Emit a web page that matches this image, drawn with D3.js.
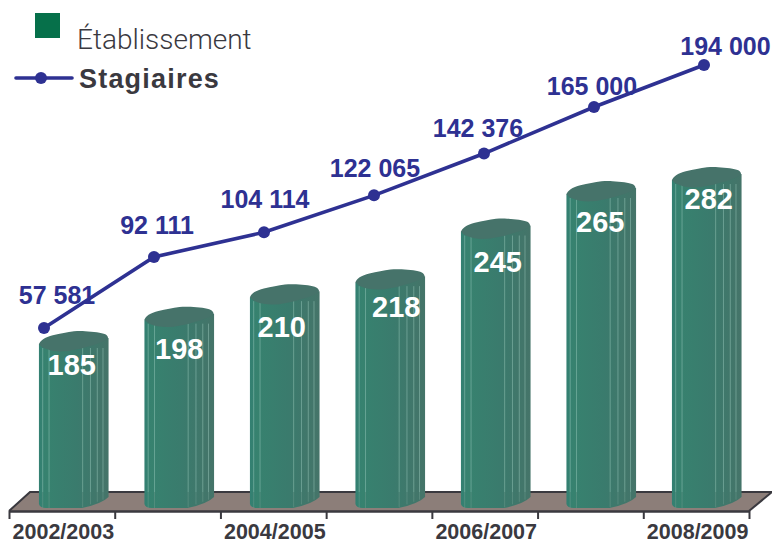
<!DOCTYPE html>
<html>
<head>
<meta charset="utf-8">
<script src="https://cdn.jsdelivr.net/npm/d3@7"></script>
<style>
  html, body { margin: 0; padding: 0; background: #fff; }
  svg { display: block; }
  text { font-family: "Liberation Sans", Arial, sans-serif; }
</style>
</head>
<body>
<div id="chart"></div>
<script>
// Données
const years = ["2002/2003", "2003/2004", "2004/2005", "2005/2006", "2006/2007", "2007/2008", "2008/2009"];
const shownYears = ["2002/2003", "2004/2005", "2006/2007", "2008/2009"];
const etablissements = [185, 198, 210, 218, 245, 265, 282];
const stagiaires = [57581, 92111, 104114, 122065, 142376, 165000, 194000];
const stagiairesLabels = ["57 581", "92 111", "104 114", "122 065", "142 376", "165 000", "194 000"];

const width = 772, height = 544;
const dark = "#3a393f", blue = "#2e3192";

const svg = d3.select("#chart").append("svg")
    .attr("width", width)
    .attr("height", height);

// l'original n'a pas d'échelle régulière : la dernière année est tassée, d'où les 3 points
const yBar = d3.scaleLinear().domain([185, 265, 282]).range([344, 194, 180]);
const yLine = d3.scaleLinear().domain([57581, 165000, 194000]).range([328, 107, 65]);

const xAxisScale = d3.scaleBand().domain(years).range([9, 749]);
const xBar = d3.scaleBand().domain(years).range([21, 759.5]).paddingInner(0.34).paddingOuter(0.17);
const xLine = d3.scalePoint().domain(years).range([44, 704]);

const defs = svg.append("defs");
const grad = defs.append("linearGradient").attr("id", "barFill");
grad.append("stop").attr("offset", "0%").attr("stop-color", "#338072");
grad.append("stop").attr("offset", "10%").attr("stop-color", "#37826f");
grad.append("stop").attr("offset", "55%").attr("stop-color", "#3a7b6d");
grad.append("stop").attr("offset", "100%").attr("stop-color", "#457469");

// Sol
const floorBack = 492, floorFront = 511;
svg.append("polygon")
    .attr("points", `9,${floorFront} 30,${floorBack} 772,${floorBack} 749,${floorFront}`)
    .style("fill", "#8c7e79");
svg.append("polyline")
    .attr("points", `9,${floorFront} 30,${floorBack} 772,${floorBack}`)
    .style("fill", "none").style("stroke", dark).style("stroke-width", 2);
svg.append("polyline")
    .attr("points", `749,${floorFront} 772,${floorBack}`)
    .style("fill", "none").style("stroke", dark).style("stroke-width", 2);

// Axe : graduations aux bords des années
const tickScale = d3.scaleLinear().domain([0, years.length]).range(xAxisScale.range());
const axis = svg.append("g")
    .attr("transform", `translate(0,${floorFront})`)
    .call(d3.axisBottom(tickScale)
        .tickValues(d3.range(years.length + 1))
        .tickFormat("")
        .tickSize(8)
        .tickSizeOuter(0));
axis.select(".domain").style("stroke", dark).style("stroke-width", 2.6);
axis.selectAll(".tick line").style("stroke", dark).style("stroke-width", 2);

svg.selectAll("text.year")
    .data(shownYears)
    .enter().append("text")
    .attr("class", "year")
    .attr("x", d => xAxisScale(d) + xAxisScale.bandwidth() / 2 + 1.5)
    .attr("y", 539)
    .attr("text-anchor", "middle")
    .style("font-size", "21.5px")
    .style("font-weight", "bold")
    .style("fill", dark)
    .text(d => d);

// Cylindres
const stripes = [0.054, 0.145, 0.628, 0.74, 0.838, 0.92];
const curve = d3.line().curve(d3.curveBasis);

function bodyPath(x, w, top) {
    return `M${x},${top} L${x},504 Q${x + 1},508 ${x + 7},508 L${x + w * 0.62},508 `
        + `Q${x + w * 0.9},504 ${x + w},497 L${x + w},${top - 6} Z`;
}
function capPath(x, w, top) {
    return curve([
        [x, top], [x + w * 0.04, top - 5], [x + w * 0.2, top - 9], [x + w * 0.36, top - 11],
        [x + w * 0.5, top - 13], [x + w * 0.66, top - 13], [x + w * 0.84, top - 12],
        [x + w * 0.97, top - 10], [x + w, top - 6], [x + w * 0.98, top - 4], [x + w * 0.8, top + 1],
        [x + w * 0.6, top + 5], [x + w * 0.36, top + 8], [x + w * 0.18, top + 7], [x + w * 0.05, top + 4], [x, top]
    ]);
}

const bars = svg.selectAll("g.bar")
    .data(years)
    .enter().append("g")
    .attr("class", "bar");

bars.append("path")
    .attr("d", (d, i) => bodyPath(xBar(d), xBar.bandwidth(), yBar(etablissements[i])))
    .style("fill", "url(#barFill)");

bars.each(function (d, i) {
    const w = xBar.bandwidth(), x0 = xBar(d), top = yBar(etablissements[i]);
    const g = d3.select(this);
    // partie haute claire, partie basse (devant le sol) plus sombre
    g.selectAll("line.up")
        .data(stripes)
        .enter().append("line")
        .attr("class", "up")
        .attr("x1", s => x0 + s * w)
        .attr("x2", s => x0 + s * w)
        .attr("y1", top + 4)
        .attr("y2", floorBack)
        .style("stroke", "#9ccabd")
        .style("stroke-opacity", 0.6)
        .style("stroke-width", 0.8);
    g.selectAll("line.down")
        .data(stripes)
        .enter().append("line")
        .attr("class", "down")
        .attr("x1", s => x0 + s * w)
        .attr("x2", s => x0 + s * w)
        .attr("y1", floorBack)
        .attr("y2", s => s < 0.6 ? 508 : 508 - (s - 0.6) * 26)
        .style("stroke", "#6f9c90")
        .style("stroke-opacity", 0.6)
        .style("stroke-width", 0.8);
});

bars.append("path")
    .attr("d", (d, i) => capPath(xBar(d), xBar.bandwidth(), yBar(etablissements[i])))
    .style("fill", "#46736a");

// Décalages des étiquettes, placées à la main dans l'original
const barLabelDx = [-2, 0, -3, 6, 2, -1, 2];
const barLabelDy = [31, 39, 40, 35, 40, 38, 29];
svg.selectAll("text.barLabel")
    .data(etablissements)
    .enter().append("text")
    .attr("class", "barLabel")
    .attr("x", (d, i) => xBar(years[i]) + xBar.bandwidth() / 2 + barLabelDx[i])
    .attr("y", (d, i) => yBar(d) + barLabelDy[i])
    .attr("text-anchor", "middle")
    .style("font-size", "29px")
    .style("font-weight", "bold")
    .style("fill", "#fff")
    .text(d => d);

// Courbe des stagiaires
const line = d3.line()
    .x((d, i) => xLine(years[i]))
    .y(d => yLine(d));

svg.append("path")
    .attr("d", line(stagiaires))
    .style("fill", "none")
    .style("stroke", blue)
    .style("stroke-width", 3.6);

svg.selectAll("circle.pt")
    .data(stagiaires)
    .enter().append("circle")
    .attr("class", "pt")
    .attr("cx", (d, i) => xLine(years[i]))
    .attr("cy", d => yLine(d))
    .attr("r", 6)
    .style("fill", blue);

const lineLabelDx = [13, 3, 1, 1, -6, -2, 21.5];
const lineLabelDy = [-24, -23, -24, -18, -17, -12, -10];
svg.selectAll("text.lineLabel")
    .data(stagiaires)
    .enter().append("text")
    .attr("class", "lineLabel")
    .attr("x", (d, i) => xLine(years[i]) + lineLabelDx[i])
    .attr("y", (d, i) => yLine(d) + lineLabelDy[i])
    .attr("text-anchor", "middle")
    .style("font-size", "25px")
    .style("font-weight", "bold")
    .style("fill", blue)
    .text((d, i) => stagiairesLabels[i]);

// Légende
svg.append("rect")
    .attr("x", 35).attr("y", 13)
    .attr("width", 25).attr("height", 25)
    .style("fill", "#06704a");
svg.append("text")
    .attr("x", 77).attr("y", 49)
    .style("font-family", "Roboto, sans-serif")
    .style("font-weight", 300)
    .style("font-size", "28px")
    .style("fill", dark)
    .text("Établissement");

svg.append("line")
    .attr("x1", 16).attr("x2", 72).attr("y1", 78).attr("y2", 78)
    .style("stroke", blue).style("stroke-width", 3.6).style("stroke-linecap", "round");
svg.append("circle")
    .attr("cx", 41).attr("cy", 78).attr("r", 6).style("fill", blue);
svg.append("text")
    .attr("x", 79).attr("y", 88)
    .style("font-size", "27px")
    .style("font-weight", "bold")
    .style("letter-spacing", "1.2px")
    .style("fill", dark)
    .text("Stagiaires");
</script>
</body>
</html>
